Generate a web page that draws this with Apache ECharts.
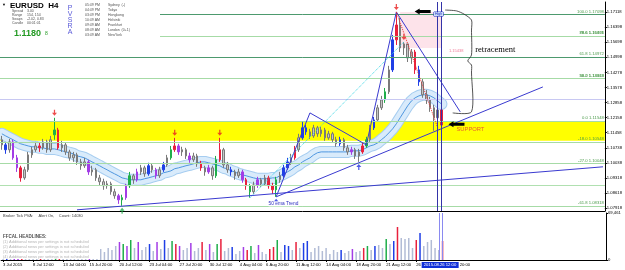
<!DOCTYPE html>
<html>
<head>
<meta charset="utf-8">
<script src="https://cdn.jsdelivr.net/npm/echarts@6.0.0/dist/echarts.min.js"></script>
<style>
  html, body { margin: 0; padding: 0; background: #fff; }
  #chart { width: 625px; height: 270px; }
</style>
</head>
<body>
<div id="chart"></div>
<script>
// EURUSD H4, one entry per 8h slot: [open, close, low, high]
const candles = [
  [1.1112,1.1088,1.1065,1.1130],[1.1088,1.1065,1.1046,1.1102],[1.1065,1.1102,1.1051,1.1116],[1.1102,1.1027,1.1018,1.1112],
  [1.1027,1.0980,1.0961,1.1041],[1.0980,1.0933,1.0915,1.0990],[1.0933,1.0971,1.0924,1.0985],[1.0971,1.1041,1.0961,1.1055],
  [1.1041,1.1065,1.1027,1.1079],[1.1065,1.1083,1.1055,1.1102],[1.1083,1.1074,1.1055,1.1097],[1.1074,1.1102,1.1065,1.1116],
  [1.1102,1.1065,1.1051,1.1112],[1.1065,1.1112,1.1055,1.1130],[1.1135,1.1158,1.1112,1.1215],[1.1158,1.1074,1.1065,1.1168],
  [1.1074,1.1088,1.1055,1.1107],[1.1088,1.1055,1.1041,1.1097],[1.1055,1.1027,1.1013,1.1065],[1.1027,1.1041,1.1008,1.1055],
  [1.1041,1.1008,1.0994,1.1051],[1.1008,1.0990,1.0971,1.1022],[1.0990,1.1008,1.0980,1.1027],[1.1008,1.0961,1.0947,1.1018],
  [1.0961,1.0971,1.0943,1.0990],[1.0971,1.0933,1.0919,1.0980],[1.0933,1.0915,1.0896,1.0947],[1.0915,1.0896,1.0877,1.0929],
  [1.0896,1.0905,1.0882,1.0919],[1.0905,1.0868,1.0854,1.0915],[1.0868,1.0849,1.0835,1.0882],[1.0849,1.0830,1.0811,1.0858],
  [1.0830,1.0840,1.0802,1.0854],[1.0840,1.0896,1.0830,1.0905],[1.0896,1.0943,1.0886,1.0961],[1.0943,1.0924,1.0905,1.0952],
  [1.0924,1.0961,1.0915,1.0976],[1.0961,1.0980,1.0947,1.0994],[1.0980,1.0952,1.0938,1.0990],[1.0952,1.0990,1.0943,1.1004],
  [1.0990,1.0971,1.0957,1.0999],[1.0971,1.0943,1.0929,1.0980],[1.0943,1.0971,1.0933,1.0985],[1.0971,1.0994,1.0961,1.1008],
  [1.0994,1.1027,1.0985,1.1041],[1.1027,1.1065,1.1018,1.1083],[1.1065,1.1083,1.1055,1.1121],[1.1083,1.1055,1.1041,1.1093],
  [1.1055,1.1065,1.1036,1.1079],[1.1065,1.1036,1.1022,1.1074],[1.1036,1.1018,1.1004,1.1051],[1.1018,1.1036,1.1008,1.1051],
  [1.1036,1.0999,1.0985,1.1046],[1.0999,1.0980,1.0966,1.1013],[1.0980,1.0961,1.0943,1.0990],[1.0961,1.0980,1.0952,1.0994],
  [1.0980,1.0943,1.0924,1.0990],[1.0943,1.1018,1.0933,1.1036],[1.1018,1.1065,1.1008,1.1121],[1.1065,1.0994,1.0980,1.1074],
  [1.0994,1.0971,1.0957,1.1008],[1.0971,1.0961,1.0943,1.0985],[1.0961,1.0943,1.0924,1.0971],[1.0943,1.0961,1.0933,1.0976],
  [1.0961,1.0924,1.0910,1.0971],[1.0924,1.0896,1.0877,1.0933],[1.0896,1.0868,1.0840,1.0905],[1.0868,1.0900,1.0858,1.0915],
  [1.0900,1.0924,1.0886,1.0938],[1.0924,1.0905,1.0891,1.0933],[1.0905,1.0933,1.0896,1.0947],[1.0933,1.0896,1.0882,1.0943],
  [1.0896,1.0877,1.0858,1.0910],[1.0877,1.0924,1.0844,1.0938],[1.0924,1.0943,1.0910,1.0961],[1.0943,1.0980,1.0933,1.0994],
  [1.0980,1.1008,1.0971,1.1027],[1.1008,1.1027,1.0994,1.1046],[1.1027,1.1065,1.1018,1.1083],[1.1065,1.1121,1.1055,1.1140],
  [1.1121,1.1168,1.1112,1.1196],[1.1168,1.1149,1.1135,1.1182],[1.1149,1.1130,1.1116,1.1163],[1.1130,1.1168,1.1121,1.1182],
  [1.1168,1.1140,1.1126,1.1177],[1.1140,1.1158,1.1126,1.1173],[1.1158,1.1121,1.1107,1.1168],[1.1121,1.1140,1.1112,1.1154],
  [1.1140,1.1112,1.1097,1.1149],[1.1112,1.1093,1.1079,1.1126],[1.1093,1.1112,1.1083,1.1126],[1.1112,1.1074,1.1060,1.1121],
  [1.1074,1.1055,1.1041,1.1088],[1.1055,1.1065,1.1041,1.1079],[1.1065,1.1036,1.1022,1.1074],[1.1036,1.1055,1.1008,1.1069],
  [1.1055,1.1083,1.1046,1.1097],[1.1083,1.1112,1.1074,1.1126],[1.1112,1.1168,1.1102,1.1182],[1.1168,1.1205,1.1158,1.1219],
  [1.1205,1.1262,1.1196,1.1276],[1.1262,1.1299,1.1252,1.1318],[1.1299,1.1337,1.1285,1.1355],[1.1337,1.1440,1.1327,1.1459],
  [1.1440,1.1581,1.1430,1.1604],[1.1581,1.1651,1.1557,1.1712],[1.1651,1.1543,1.1524,1.1684],[1.1543,1.1562,1.1510,1.1571],
  [1.1562,1.1496,1.1477,1.1557],[1.1496,1.1524,1.1468,1.1538],[1.1524,1.1440,1.1421,1.1534],[1.1440,1.1384,1.1365,1.1459],
  [1.1384,1.1323,1.1309,1.1398],[1.1323,1.1299,1.1280,1.1346],[1.1299,1.1262,1.1243,1.1313],[1.1262,1.1215,1.1154,1.1276],
  [1.1215,1.1252,1.1205,1.1271],[1.1252,1.1181,1.1173,1.1262]
];

// PVSRA colour class per candle: 0 normal, 1 red, 2 green, 3 blue, 4 violet
const pvsra = [
  0,3,0,4,4,1,0,0,0,0, 1,0,0,0,2,1,0,0,0,0, 0,0,0,4,0,0,0,0,0,0,
  0,4,2,4,2,0,4,0,0,3, 0,4,0,3,0,2,1,4,0,0, 4,0,0,1,0,4,0,2,1,0,
  0,3,0,0,4,1,2,0,4,0, 0,1,1,2,0,3,3,0,1,0, 3,3,0,0,0,0,0,0,0,0,
  3,0,0,4,0,0,1,2,0,3, 0,0,2,0,3,1,0,0,0,0, 1,3,0,0,0,0,0,1
];

const volumes = [
  14800,17700,13300,20700,23600,26600,16300,13300,11800,19200,22200,14800,13300,11800,29600,23600,14800,13300,11800,16300,
  13300,14800,11800,20700,13300,14800,16300,11800,17700,14800,20700,26600,23600,20700,29600,17700,26600,14800,19200,23600,
  13300,26600,16300,29600,17700,28100,23600,20700,14800,17700,25100,13300,17700,26600,14800,23600,11800,23600,31000,13300,
  17700,19200,8900,13300,19200,14800,20700,10300,22200,11800,8900,16300,19200,29600,11800,22200,20700,14800,26600,17700,
  25100,28100,11800,17700,20700,13300,17700,8900,14800,11800,14800,10300,13300,16300,11800,13300,17700,20700,14800,20700,
  22200,17700,31000,23600,28100,48800,32500,31000,32500,17700,29600,39900,20700,26600,29600,17700,14800,28100
];

// 50 EMA centre of the blue envelope
const ema50 = [
  1.1140,1.1130,1.1121,1.1112,1.1102,1.1093,1.1088,1.1083,1.1079,1.1079,
  1.1074,1.1074,1.1069,1.1069,1.1069,1.1065,1.1060,1.1055,1.1051,1.1046,
  1.1036,1.1032,1.1027,1.1018,1.1008,1.0999,1.0990,1.0980,1.0971,1.0961,
  1.0952,1.0943,1.0933,1.0929,1.0924,1.0924,1.0924,1.0924,1.0929,1.0933,
  1.0938,1.0943,1.0947,1.0957,1.0961,1.0966,1.0976,1.0980,1.0985,1.0990,
  1.0994,1.0999,1.1004,1.1008,1.1008,1.1004,1.0999,1.0994,1.0990,1.0980,
  1.0976,1.0966,1.0961,1.0952,1.0947,1.0943,1.0938,1.0933,1.0929,1.0929,
  1.0929,1.0929,1.0933,1.0933,1.0943,1.0952,1.0961,1.0971,1.0985,1.0994,
  1.1008,1.1018,1.1027,1.1041,1.1051,1.1055,1.1055,1.1055,1.1055,1.1055,
  1.1055,1.1055,1.1055,1.1060,1.1060,1.1060,1.1065,1.1074,1.1083,1.1088,
  1.1097,1.1112,1.1126,1.1144,1.1163,1.1187,1.1215,1.1243,1.1271,1.1294,
  1.1309,1.1318,1.1323,1.1323,1.1318,1.1309,1.1294,1.1280
];

const slotCount = 161;
const tickIdx = [0, 8, 16, 23, 31, 39, 47, 55, 63, 70, 78, 86, 94, 102, 110];
const tickText = ['3 Jul 2015','8 Jul 12:00','13 Jul 04:00','15 Jul 20:00','20 Jul 12:00','23 Jul 04:00',
  '27 Jul 20:00','30 Jul 12:00','4 Aug 04:00','6 Aug 20:00','11 Aug 12:00','14 Aug 04:00',
  '18 Aug 20:00','21 Aug 12:00','26 Aug 04:00'];
const priceTicks = [1.17118,1.16398,1.15698,1.14998,1.14278,1.13578,1.12858,1.12158,1.11458,
  1.10738,1.10038,1.09318,1.08618,1.07918];
const priceMin = 1.07775, priceMax = 1.17587;
const lastPrice = 1.11808;
const volMax = 69461;

const fibLevels = [
  ['100.0', 1.17098], ['88.6', 1.16471], ['78.6', 1.15908], ['61.8', 1.14972], ['50.0', 1.14319],
  ['38.2', 1.13663], ['0.0', 1.11548], ['-18.0', 1.10548], ['-27.0', 1.10048], ['-61.8', 1.08318]
];
const roundLevels = [1.1700, 1.1630, 1.1500, 1.1300, 1.1100, 1.0900];
const greenLevels = [1.1352, 1.1243, 1.0947, 1.0790];
const goldLevel = 1.1177;
const supportZone = [1.1196, 1.1107];

// trend lines, [slot, price] pairs
const blueLines = [
  [[20, 1.0783], [160, 1.0985]],
  [[73, 1.0844], [144, 1.1360]],
  [[73, 1.0844], [82, 1.1238]],
  [[82, 1.1238], [97, 1.1088]],
  [[97, 1.1088], [105, 1.1712]],
  [[105, 1.1712], [122, 1.1243]],
  [[122, 1.1243], [135, 1.1759]]
];
const cyanDotted = [[66, 1.0839], [107, 1.1571]];
const redDotted = [[105, 1.1712], [116, 1.1168]];
const highBox = [[106, 1.1712], [117, 1.1543]];
const fractalUp = [14, 46, 58, 105, 107];
const fractalDown = [32, 73, 95];
const cursorSlots = [116, 117];

const pal = ['#9a9a9a', '#e8203c', '#1fae4a', '#1f3fe6', '#a33de6'];
const volPal = ['#b2bcd6', '#e8203c', '#1fae4a', '#1f3fe6', '#a33de6'];

const cats = Array.from({ length: slotCount }, (_, i) => String(i));
const labelAt = {};
tickIdx.forEach((k, j) => { labelAt[k] = tickText[j]; });

const font = 'Liberation Sans, Arial, sans-serif';
const chart = echarts.init(document.getElementById('chart'));

const candleData = candles.map((c, i) => {
  const k = pvsra[i];
  const st = k === 0
    ? { color: '#c6c6c6', color0: '#8a8a8a', borderColor: '#7a7a7a', borderColor0: '#7a7a7a' }
    : { color: pal[k], color0: pal[k], borderColor: pal[k], borderColor0: pal[k] };
  return { value: c, itemStyle: st };
});
const volData = volumes.map((v, i) => ({ value: v, itemStyle: { color: volPal[pvsra[i]] } }));

const hLines = [];
roundLevels.forEach(v => hLines.push({ yAxis: v, lineStyle: { color: '#c8c8f2', width: 1, type: 'solid' } }));
greenLevels.forEach(v => hLines.push({ yAxis: v, lineStyle: { color: '#b0e0b0', width: 1, type: 'solid' } }));
hLines.push({ yAxis: goldLevel, lineStyle: { color: '#a5a520', width: 1, type: 'solid' } });
fibLevels.forEach(([n, v]) => hLines.push({
  yAxis: v,
  lineStyle: { color: (n === '61.8' || n === '100.0') ? '#4d9a6e' : '#a6dba6', width: 1, type: 'solid' },
  label: { show: true, position: 'insideEndTop', formatter: n + ' ' + v.toFixed(5),
    fontSize: 4.2, color: '#4a9a4a', distance: 1, fontFamily: font }
}));

const trendData = blueLines.map(([a, b]) => [
  { coord: a, lineStyle: { color: '#3a3ad0', width: 1, type: 'solid' } }, { coord: b }
]);
trendData.push([{ coord: cyanDotted[0], lineStyle: { color: '#35d6e6', width: 1, type: 'dotted' } }, { coord: cyanDotted[1] }]);
trendData.push([{ coord: redDotted[0], lineStyle: { color: '#e83030', width: 1, type: 'dotted' } }, { coord: redDotted[1] }]);

const arrowDown = 'path://M3,0 L5,0 L5,4 L8,4 L4,8 L0,4 L3,4 Z';
const arrowUp = 'path://M4,0 L8,4 L5,4 L5,8 L3,8 L3,4 L0,4 Z';

const option = {
  animation: false,
  backgroundColor: '#ffffff',
  textStyle: { fontFamily: font },
  grid: [
    { left: 0, right: 19, top: 2, height: 209 },
    { left: 0, right: 19, top: 213, height: 47 }
  ],
  xAxis: [
    { type: 'category', gridIndex: 0, data: cats, boundaryGap: true,
      axisLine: { show: true, lineStyle: { color: '#000', width: 1 } },
      axisTick: { show: false }, axisLabel: { show: false }, splitLine: { show: false } },
    { type: 'category', gridIndex: 1, data: cats, boundaryGap: true,
      axisLine: { show: true, lineStyle: { color: '#000', width: 1 } },
      axisTick: { show: true, alignWithLabel: true, length: 2, interval: (i) => i in labelAt, lineStyle: { color: '#000' } },
      axisLabel: { interval: 0, formatter: (v, i) => labelAt[i] || '', fontSize: 4.2, color: '#000', align: 'left', margin: 3 },
      splitLine: { show: false } }
  ],
  yAxis: [
    { type: 'value', gridIndex: 0, position: 'right', min: priceMin, max: priceMax,
      axisLine: { show: true, lineStyle: { color: '#000' } }, splitLine: { show: false },
      axisTick: { show: true, length: 2, customValues: priceTicks, lineStyle: { color: '#000' } },
      axisLabel: { customValues: priceTicks, formatter: v => v.toFixed(5), fontSize: 4.2, color: '#000', margin: 2 } },
    { type: 'value', gridIndex: 1, position: 'right', min: 0, max: volMax,
      axisLine: { show: true, lineStyle: { color: '#000' } }, splitLine: { show: false },
      axisTick: { show: true, length: 2, customValues: [0, volMax], lineStyle: { color: '#000' } },
      axisLabel: { customValues: [0, volMax], fontSize: 4.2, color: '#000', margin: 2 } }
  ],
  series: [
    { name: 'levels', type: 'line', data: [], xAxisIndex: 0, yAxisIndex: 0, z: 1,
      markArea: { silent: true, data: [
        [{ yAxis: supportZone[0], itemStyle: { color: '#ffff00' } }, { yAxis: supportZone[1] }],
        [{ coord: highBox[0], itemStyle: { color: '#fde3ea' } }, { coord: highBox[1] }]
      ] },
      markLine: { silent: true, symbol: ['none', 'none'], label: { show: false }, data: hLines } },
    { name: 'band-edge', type: 'line', data: ema50, showSymbol: false, z: 2, silent: true,
      lineStyle: { color: '#a6cdf0', width: 12, join: 'round', cap: 'round' } },
    { name: 'band', type: 'line', data: ema50, showSymbol: false, z: 2, silent: true,
      lineStyle: { color: '#d9ebfb', width: 10, join: 'round', cap: 'round' } },
    { name: 'ema50', type: 'line', data: ema50, showSymbol: false, z: 2, silent: true,
      lineStyle: { color: '#4f97e0', width: 1 } },
    { name: 'trend', type: 'line', data: [], z: 3,
      markLine: { silent: true, symbol: ['none', 'none'], label: { show: false }, data: trendData } },
    { name: 'EURUSD', type: 'candlestick', data: candleData, xAxisIndex: 0, yAxisIndex: 0, z: 4, barWidth: 2,
      markLine: { silent: true, symbol: ['none', 'none'], data: [
        { xAxis: cursorSlots[0], lineStyle: { color: '#3434a8', width: 1, type: 'solid' }, label: { show: false } },
        { xAxis: cursorSlots[1], lineStyle: { color: '#3434a8', width: 1, type: 'solid' }, label: { show: false } },
        { yAxis: lastPrice, lineStyle: { opacity: 0 },
          label: { show: true, position: 'end', formatter: lastPrice.toFixed(5), color: '#fff',
            backgroundColor: '#000', fontSize: 4.2, padding: [1, 1, 0, 1], distance: 2 } }
      ] } },
    { name: 'fractal-up', type: 'scatter', z: 5, symbol: arrowDown, symbolSize: [5, 6], symbolOffset: [0, -5],
      itemStyle: { color: '#e82020' }, data: fractalUp.map(i => [i, candles[i][3]]) },
    { name: 'fractal-down', type: 'scatter', z: 5, symbol: arrowUp, symbolSize: [5, 6], symbolOffset: [0, 5],
      data: fractalDown.map((i, j) => ({ value: [i, candles[i][2]], itemStyle: { color: j === 0 ? '#1fae4a' : '#2030e0' } })) },
    { name: 'volume', type: 'bar', data: volData, xAxisIndex: 1, yAxisIndex: 1, barWidth: 1.5, z: 2,
      markLine: { silent: true, symbol: ['none', 'none'], label: { show: false }, data: [
        { xAxis: cursorSlots[0], lineStyle: { color: '#8a8af0', width: 1, type: 'solid' } },
        { xAxis: cursorSlots[1], lineStyle: { color: '#8a8af0', width: 1, type: 'solid' } }
      ] } }
  ]
};
chart.setOption(option);

// annotations placed in chart coordinates
const px = (slot, price) => chart.convertToPixel({ xAxisIndex: 0, yAxisIndex: 0 }, [slot, price]);
const braceNodes = [[118, 1.1721], [121, 1.1717], [123, 1.1702], [124.5, 1.1674], [125, 1.1627], [125, 1.1510],
  [124, 1.1482], [125, 1.1463], [125, 1.1430], [125, 1.1243], [120, 1.1238]];

function leftArrow(c) {
  const [x, y] = c;
  return [[x - 8, y], [x - 3, y - 3], [x - 3, y - 1.5], [x + 8, y - 1.5], [x + 8, y + 1.5], [x - 3, y + 1.5], [x - 3, y + 3]];
}
const t = (text, x, y, size, fill, extra) => Object.assign({ type: 'text', z: 60,
  style: Object.assign({ text, x, y, fill, font: size + 'px ' + font, verticalAlign: 'middle' }, extra || {}) });

const graphics = [];
// top-left info panel
graphics.push({ type: 'rect', z: 50, shape: { x: 0, y: 0, width: 160, height: 41 }, style: { fill: '#fff' } });
graphics.push(t('▼', 2, 5, 4, '#000'));
graphics.push(t('EURUSD  H4', 10, 6, 8, '#000', { font: 'bold 8px ' + font }));
[['Spread', '3.00'], ['Range', '154, 154'], ['Swaps', '-2.02, 0.83'], ['Candle', '00:01:01']].forEach((r, i) => {
  graphics.push(t(r[0], 12, 11 + i * 4, 3.5, '#505050'));
  graphics.push(t(r[1], 27, 11 + i * 4, 3.5, '#505050'));
});
graphics.push(t('1.1180', 14, 33.5, 9, '#239a23', { font: 'bold 9px ' + font }));
graphics.push(t('8', 45, 34, 5, '#239a23'));
'PVSRA'.split('').forEach((ch, i) => graphics.push(t(ch, 70, 8 + i * 6, 7, '#5858d8', { align: 'center' })));
[['05:49 PM', 'Sydney  (-)'], ['04:49 PM', 'Tokyo'], ['03:49 PM', 'Hongkong'], ['10:49 AM', 'Helsinki'],
 ['09:49 AM', 'Frankfurt'], ['08:49 AM', 'London  (0+1)'], ['03:49 AM', 'NewYork']].forEach((r, i) => {
  graphics.push(t(r[0], 85, 5 + i * 5, 3.5, '#505050'));
  graphics.push(t(r[1], 108, 5 + i * 5, 3.5, '#505050'));
});
// volume panel headline block
graphics.push({ type: 'rect', z: 50, shape: { x: 0, y: 212, width: 100, height: 47 }, style: { fill: '#fff' } });
graphics.push(t('Broker Tick PVA:     Alert On,    Count: 14030', 3, 215.5, 4, '#404040'));
graphics.push(t('FFCAL HEADLINES:', 3, 237, 4.5, '#505050', { font: 'bold 4.5px ' + font }));
for (let i = 1; i <= 4; i++) {
  graphics.push(t('(' + i + ') Additional news per settings is not scheduled', 3, 237 + i * 5, 4, '#b4b4b4'));
}
// chart drawings
graphics.push({ type: 'polyline', z: 60, shape: { points: braceNodes.map(n => px(n[0], n[1])), smooth: 0.25 },
  style: { stroke: '#2a2a2a', lineWidth: 0.8, fill: null } });
graphics.push({ type: 'polygon', z: 60, shape: { points: leftArrow(px(112, 1.1714)) }, style: { fill: '#000' } });
graphics.push({ type: 'polygon', z: 60, shape: { points: leftArrow(px(121, 1.1185)) }, style: { fill: '#000' } });
const sp = px(121, 1.1159);
graphics.push(t('SUPPORT', sp[0], sp[1], 5.8, '#e8602c'));
const rp = px(126, 1.1534);
graphics.push(t('retracement', rp[0], rp[1], 8.5, '#000', { font: '8.5px Liberation Serif, serif' }));
const ep = px(71, 1.0811);
graphics.push(t('50 ema Trend', ep[0], ep[1], 4.8, '#2a2ac0', { backgroundColor: '#fff' }));
const hp = px(115, 1.1702);
graphics.push(t('High', hp[0], hp[1], 3.5, '#2030c0', { backgroundColor: '#cddcf8', borderColor: '#2030c0', borderWidth: 0.5, padding: [0, 1] }));
const lp = px(119, 1.1529);
graphics.push(t('1.15438', lp[0], lp[1], 4, '#f07a98'));
// time cursor box on the x axis
const bx = px(112, priceMin)[0] - 1;
graphics.push({ type: 'rect', z: 60, shape: { x: bx, y: 262, width: 37, height: 6 }, style: { fill: '#1030d8' } });
graphics.push(t('2015.08.26 12:00', bx + 2, 265.2, 4.2, '#fff'));
graphics.push(t('20:00', bx + 38, 265.2, 4.2, '#000'));

chart.setOption({ graphic: graphics });
</script>
</body>
</html>
